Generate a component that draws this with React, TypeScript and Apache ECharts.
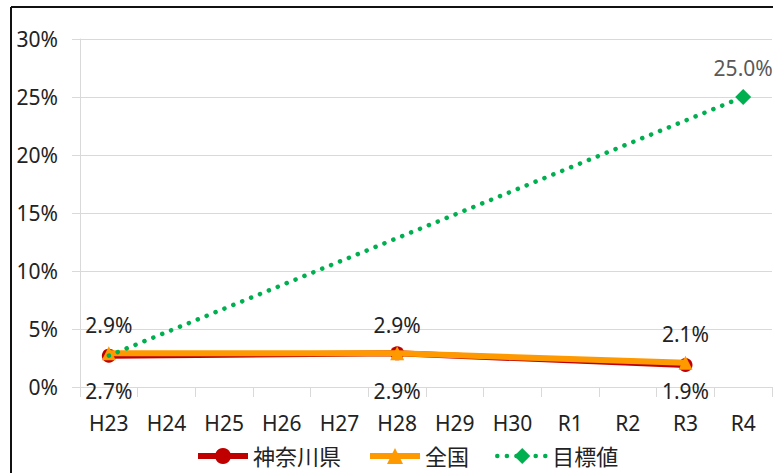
import React, { useEffect, useRef } from "react";
import * as echarts from "echarts";

const categories = ["H23", "H24", "H25", "H26", "H27", "H28", "H29", "H30", "R1", "R2", "R3", "R4"];
const kanagawa = [2.7, null, null, null, null, 2.9, null, null, null, null, 1.9, null];
const zenkoku = [2.9, null, null, null, null, 2.9, null, null, null, null, 2.1, null];
const target = [2.7, null, null, null, null, null, null, null, null, null, null, 25.0];
const yTicks = { min: 0, max: 30, interval: 5 };

const FONT = "'Noto Sans', 'Noto Sans CJK JP', sans-serif";
const pct = (p: any) => Number(p.value).toFixed(1) + "%";

// label distances below the red points (to keep them aligned as in the reference)
const kanagawaLabelDist = [18, 0, 0, 0, 0, 20, 0, 0, 0, 0, 9, 0];

export default function App() {
  const ref = useRef<HTMLDivElement>(null);
  useEffect(() => {
    const chart = echarts.init(ref.current!, null, { renderer: "svg" });
    chart.setOption({
      animation: false,
      textStyle: { fontFamily: FONT },
      grid: { left: 80, right: 1, top: 39, bottom: 86, containLabel: false },
      graphic: [
        { type: "line", shape: { x1: 11, y1: 7, x2: 11, y2: 473 }, style: { stroke: "#111", lineWidth: 2 } },
        { type: "line", shape: { x1: 11, y1: 7, x2: 773, y2: 7 }, style: { stroke: "#111", lineWidth: 2 } },
      ],
      legend: {
        top: 440,
        left: 190,
        itemWidth: 50,
        itemHeight: 20,
        itemGap: 26,
        lineStyle: { width: "inherit" },
        textStyle: { fontSize: 22, color: "#222", fontFamily: FONT },
        data: ["神奈川県", "全国", "目標値"],
      },
      xAxis: {
        type: "category",
        data: categories,
        boundaryGap: true,
        axisLine: { show: true, lineStyle: { color: "#d9d9d9", width: 1 } },
        axisTick: { show: true, length: 10, lineStyle: { color: "#d9d9d9" } },
        axisLabel: { fontSize: 21, color: "#222", margin: 25, fontFamily: FONT },
      },
      yAxis: {
        type: "value",
        min: yTicks.min,
        max: yTicks.max,
        interval: yTicks.interval,
        axisLine: { show: true, lineStyle: { color: "#d9d9d9" } },
        axisTick: { show: true, length: 8, lineStyle: { color: "#d9d9d9" } },
        splitLine: { show: true, lineStyle: { color: "#d9d9d9" } },
        axisLabel: { formatter: "{value}%", fontSize: 21, color: "#222", margin: 22, fontFamily: FONT },
      },
      series: [
        {
          name: "神奈川県",
          type: "line",
          data: kanagawa.map((v, i) =>
            v === null ? null : { value: v, label: { distance: kanagawaLabelDist[i] } }
          ),
          connectNulls: true,
          symbol: "circle",
          symbolSize: 14,
          lineStyle: { color: "#C00000", width: 6 },
          itemStyle: { color: "#C00000" },
          label: {
            show: true,
            position: "bottom",
            formatter: pct,
            fontSize: 21,
            color: "#222",
            fontFamily: FONT,
          },
          z: 2,
        },
        {
          name: "全国",
          type: "line",
          data: zenkoku,
          connectNulls: true,
          symbol: "triangle",
          symbolSize: 14,
          lineStyle: { color: "#FF9900", width: 6 },
          itemStyle: { color: "#FF9900" },
          label: {
            show: true,
            position: "top",
            distance: 11,
            formatter: pct,
            fontSize: 21,
            color: "#222",
            fontFamily: FONT,
          },
          z: 3,
        },
        {
          name: "目標値",
          type: "line",
          data: target.map((v, i) =>
            v === null ? null : i === 0 ? { value: v, symbol: "none", label: { show: false } } : { value: v }
          ),
          connectNulls: true,
          symbol: "diamond",
          symbolSize: 16,
          lineStyle: { color: "#00B050", width: 4.5, type: [0.1, 9.5], cap: "round" },
          itemStyle: { color: "#00B050" },
          label: {
            show: true,
            position: "top",
            distance: 11,
            formatter: pct,
            fontSize: 21,
            color: "#595959",
            fontFamily: FONT,
          },
          z: 4,
        },
      ],
    });
    return () => chart.dispose();
  }, []);
  return (
    <div
      ref={ref}
      style={{ position: "fixed", left: 0, top: 0, width: 773, height: 473, background: "#fff" }}
    />
  );
}
